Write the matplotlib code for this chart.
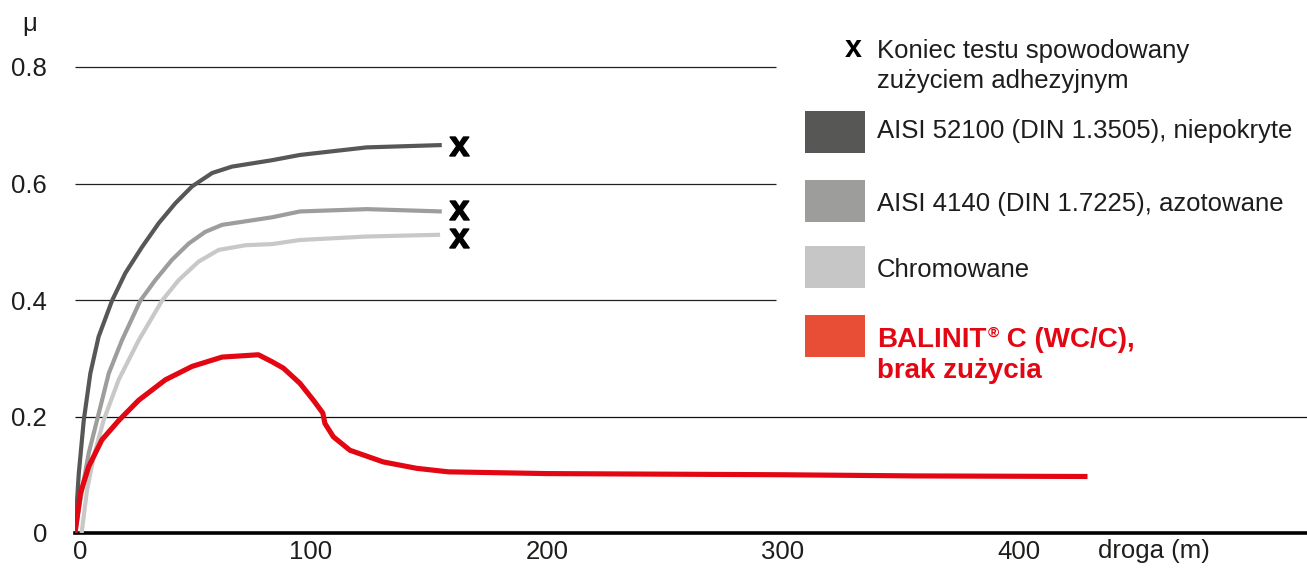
import matplotlib
matplotlib.use('Agg')
from matplotlib import pyplot as plt
from matplotlib.patches import Rectangle
from matplotlib.transforms import ScaledTranslation

plt.rcParams['font.family'] = ['Liberation Sans', 'DejaVu Sans']
plt.rcParams['mathtext.fontset'] = 'custom'
plt.rcParams['mathtext.bf'] = 'Liberation Sans:bold'

# droga (m) / mu
aisi52100_x = [0, 1.6, 3.7, 6.5, 10.0, 15.7, 21.3, 28.4, 35.5, 42.5, 49.6, 58.1, 66.5, 83.5, 95.3, 123.6, 155.4]
aisi52100_y = [0, 0.102, 0.193, 0.274, 0.337, 0.399, 0.446, 0.491, 0.532, 0.566, 0.595, 0.618, 0.629, 0.640, 0.649, 0.662, 0.666]

aisi4140_x = [0, 3.0, 5.8, 9.3, 14.3, 19.9, 27.7, 34.0, 41.1, 48.2, 55.2, 62.3, 83.5, 95.3, 123.6, 155.4]
aisi4140_y = [0, 0.074, 0.137, 0.193, 0.274, 0.331, 0.399, 0.434, 0.469, 0.497, 0.517, 0.529, 0.542, 0.552, 0.556, 0.552]

chrom_x = [2.8, 5.1, 7.9, 12.1, 18.5, 27.0, 36.9, 43.9, 52.4, 60.9, 72.2, 83.5, 95.3, 123.6, 154.7]
chrom_y = [0, 0.074, 0.131, 0.193, 0.263, 0.331, 0.399, 0.434, 0.466, 0.486, 0.494, 0.496, 0.503, 0.509, 0.512]

balinit_x = [0, 2.3, 5.8, 11.4, 18.5, 27.0, 38.3, 49.6, 62.3, 77.7, 83.5, 88.3, 95.3, 101.0, 105.0, 105.9,
             109.5, 116.5, 130.6, 144.8, 158.2, 200, 300, 356, 429]
balinit_y = [0, 0.068, 0.114, 0.160, 0.193, 0.228, 0.263, 0.286, 0.302, 0.306, 0.294, 0.283, 0.257, 0.228, 0.206, 0.188,
             0.165, 0.142, 0.122, 0.111, 0.105, 0.102, 0.100, 0.098, 0.097]

# koniec testu (x)
end_x = [162.7, 162.7, 162.7]
end_y = [0.664, 0.555, 0.506]

x_ticks = [0, 100, 200, 300, 400]
y_ticks = [0, 0.2, 0.4, 0.6, 0.8]
y_tick_labels = ['0', '0.2', '0.4', '0.6', '0.8']

labels = ['AISI 52100 (DIN 1.3505), niepokryte', 'AISI 4140 (DIN 1.7225), azotowane', 'Chromowane']
line_colors = ['#575756', '#9d9d9c', '#c8c8c7', '#e30613']
patch_colors = ['#575756', '#9d9d9c', '#c6c6c6', '#e84e36']
red_text = '#e30613'
txt = '#1d1d1b'

W, H = 1307, 572


def fx(px):
    return px / W


def fy(py):
    return 1 - py / H


fig = plt.figure(figsize=(W / 100, H / 100), dpi=100)
ax = fig.add_axes([75 / W, 39 / H, 1 - 75 / W, 533 / H])
ax.set_xlim(0, 522)
ax.set_ylim(0, 533 / 582.5)

# siatka
ax.hlines([0.4, 0.6, 0.8], 0, 297, color='#222222', lw=0.9, zorder=1)
ax.hlines([0.2], 0, 522, color='#111111', lw=0.9, zorder=1)

series = [(aisi52100_x, aisi52100_y), (aisi4140_x, aisi4140_y), (chrom_x, chrom_y)]
for (sx, sy), c in zip(series[::-1], line_colors[2::-1]):
    ax.plot(sx, sy, color=c, lw=3.0, solid_capstyle='butt', solid_joinstyle='round', zorder=3)
ax.plot(balinit_x, balinit_y, color=line_colors[3], lw=3.7, solid_capstyle='butt', solid_joinstyle='round', zorder=4)

ax.plot(end_x, end_y, ls='none', marker=r'$\mathbf{x}$', markersize=14, color='black', zorder=5)

for s in ['top', 'left', 'right']:
    ax.spines[s].set_visible(False)
ax.spines['bottom'].set_linewidth(2.6)
ax.spines['bottom'].set_color('black')

ax.set_xticks(x_ticks)
ax.set_xticklabels([str(v) for v in x_ticks])
ax.set_yticks(y_ticks)
ax.set_yticklabels(y_tick_labels)
ax.tick_params(axis='both', length=0, labelsize=18.5, labelcolor=txt)
ax.tick_params(axis='y', pad=20)
ax.tick_params(axis='x', pad=5)
lab0 = ax.get_xticklabels()[0]
lab0.set_transform(lab0.get_transform() + ScaledTranslation(0.05, 0, fig.dpi_scale_trans))

fig.text(fx(29.5), fy(31.5), 'μ', fontsize=18.5, color=txt, ha='center', va='baseline')
fig.text(fx(1098), fy(558), 'droga (m)', fontsize=18.5, color=txt, ha='left', va='baseline')

# legenda
fig.text(fx(853), fy(57), 'x', fontsize=22, fontweight='bold', color='black', ha='center', va='baseline')
fig.text(fx(877), fy(58), 'Koniec testu spowodowany', fontsize=18.5, color=txt, va='baseline')
fig.text(fx(877), fy(88), 'zużyciem adhezyjnym', fontsize=18.5, color=txt, va='baseline')

patch_top = [111, 180, 246, 315]
text_base = [138, 211, 277]
for top, c in zip(patch_top, patch_colors):
    fig.patches.append(Rectangle((fx(805), fy(top + 42)), 60 / W, 42 / H, transform=fig.transFigure,
                                 facecolor=c, edgecolor='none'))
for lab, b in zip(labels, text_base):
    fig.text(fx(877), fy(b), lab, fontsize=18.5, color=txt, va='baseline')

renderer = fig.canvas.get_renderer()
t1 = fig.text(fx(877), fy(347), 'BALINIT', fontsize=20, fontweight='bold', color=red_text, va='baseline')
x1 = t1.get_window_extent(renderer).x1
t2 = fig.text(x1 / W + 1 / W, fy(337), '®', fontsize=11, fontweight='bold', color=red_text, va='baseline')
x2 = t2.get_window_extent(renderer).x1
fig.text(x2 / W, fy(347), ' C (WC/C),', fontsize=20, fontweight='bold', color=red_text, va='baseline')
fig.text(fx(877), fy(378), 'brak zużycia', fontsize=20, fontweight='bold', color=red_text, va='baseline')

fig.savefig('out.png', dpi=100)
plt.close()
